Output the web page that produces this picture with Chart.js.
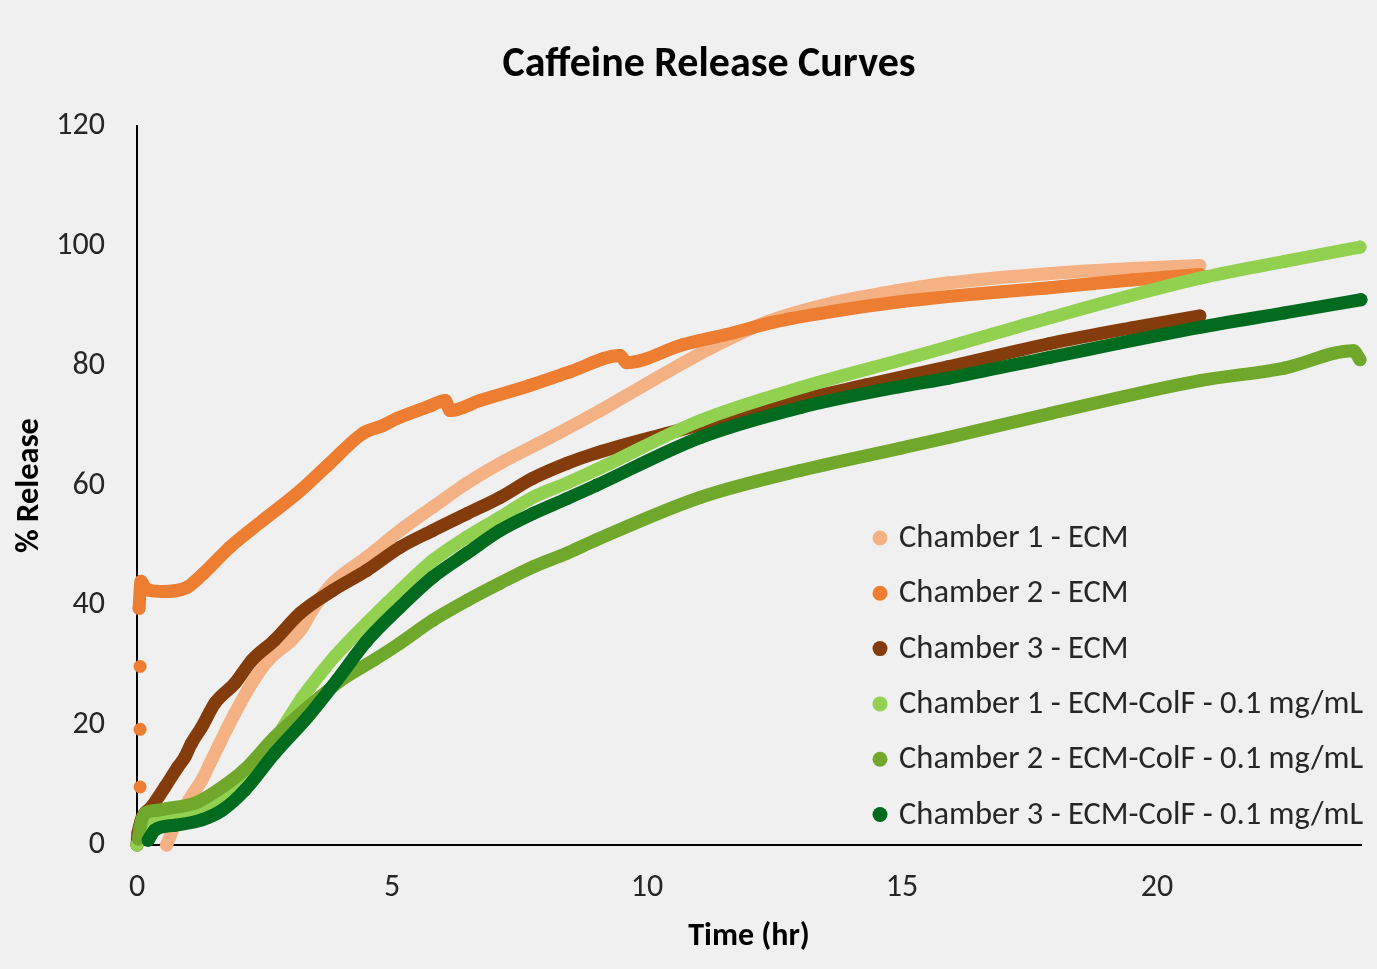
<!DOCTYPE html>
<html>
<head>
<meta charset="utf-8">
<title>Caffeine Release Curves</title>
<script src="https://cdn.jsdelivr.net/npm/chart.js@4.4.1/dist/chart.umd.min.js"></script>
<style>
  html, body { margin: 0; padding: 0; background: #f0f0f0; }
  #wrap { width: 1377px; height: 969px; }
</style>
</head>
<body>
<div id="wrap"><canvas id="grafico" width="1377" height="969"></canvas></div>
<script>
// --- DATOS ---
const seriesLabels = [
  'Chamber 1 - ECM',
  'Chamber 2 - ECM',
  'Chamber 3 - ECM',
  'Chamber 1 - ECM-ColF - 0.1 mg/mL',
  'Chamber 2 - ECM-ColF - 0.1 mg/mL',
  'Chamber 3 - ECM-ColF - 0.1 mg/mL'
];
const seriesColors = ['#F4B183', '#ED7D31', '#843C0C', '#92D050', '#70A82C', '#006B1E'];

const xTicks = [0, 5, 10, 15, 20];

// Chamber 1 - ECM
const timeEcm1 = [0.58, 0.75, 0.94, 1.1, 1.27, 1.43, 1.59, 1.75, 1.92, 2.25, 2.57, 3.03, 3.2, 3.5, 3.84, 4.5, 5.16, 5.8, 6.47, 7.12, 8.1, 9.08, 10, 11.04, 12.35, 13.65, 14.96, 15.9, 17.9, 19.5, 20.84];
const relEcm1  = [0, 3.5, 6.4, 8.6, 10.8, 13.6, 16.4, 19.2, 22, 27, 30.8, 34.2, 35.8, 40, 43.7, 48, 52.5, 56.4, 60.4, 63.7, 68, 72.5, 77, 82, 87.3, 90.5, 92.6, 93.8, 95.4, 96.2, 96.7];

// Chamber 2 - ECM (null = hueco entre puntos sueltos)
const timeEcm2 = [0.06, 0.06, 0.06, 0.06, 0.06, 0.06, 0.04, 0.08, 0.15, 0.25, 0.5, 0.98, 1.3, 1.82, 2.47, 3.14, 3.78, 4.43, 4.82, 5.1, 5.75, 6.04, 6.14, 6.73, 7.7, 8.5, 9.47, 9.6, 10.7, 11.7, 12.5, 13.6, 15, 16.5, 17.9, 19.5, 20.84];
const relEcm2  = [9.7, null, 19.3, null, 29.8, null, 39.5, 44, 43, 42.5, 42.3, 43, 45.3, 49.7, 54.2, 58.7, 63.7, 68.7, 70, 71.2, 73.3, 74.2, 72.5, 74.2, 76.7, 79, 81.7, 80.5, 83.5, 85.5, 87.3, 89, 90.7, 92, 93, 94.3, 95.2];

// Chamber 3 - ECM
const timeEcm3 = [0, 0.02, 0.29, 0.55, 0.8, 0.94, 1.07, 1.27, 1.53, 1.92, 2.25, 2.7, 3.2, 3.84, 4.5, 5.16, 5.8, 6.47, 7.12, 7.76, 8.43, 9.0, 10.4, 12.35, 14.3, 15.9, 17.9, 19.5, 20.84];
const relEcm3  = [0, 2, 6.4, 9.7, 13, 14.7, 17, 19.7, 23.7, 27, 30.8, 34.2, 38.7, 42.5, 45.8, 49.7, 52.5, 55.3, 58, 61.2, 63.7, 65.4, 68.7, 73, 76.8, 79.8, 83.7, 86.3, 88.3];

// Chamber 1 - ECM-ColF
const timeColf1 = [0, 0.1, 0.3, 0.6, 1.0, 1.4, 1.8, 2.2, 2.7, 3.23, 3.59, 3.88, 4.5, 5.16, 5.8, 6.47, 7.12, 7.76, 8.43, 9.0, 11.04, 13, 14.96, 15.9, 17.9, 20.84, 22.5, 23.98];
const relColf1  = [0, 2.5, 4.2, 4.8, 5.5, 6.8, 9, 12, 17.5, 24.5, 28.5, 31.5, 37, 42.5, 47.5, 51.4, 54.7, 58, 60.4, 62.6, 70.8, 76.3, 80.9, 83.1, 88, 94.6, 97.4, 99.8];

// Chamber 2 - ECM-ColF
const timeColf2 = [0.03, 0.06, 0.16, 0.4, 0.6, 1.14, 1.59, 2.1, 2.7, 3.35, 4.0, 4.67, 5.16, 5.8, 6.47, 7.12, 7.76, 8.43, 9.0, 11.04, 13, 14.96, 15.9, 17.9, 20.84, 22.5, 23.85, 23.98];
const relColf2  = [1, 3, 5.3, 5.8, 6.1, 7, 9.2, 12.5, 18, 23, 27.5, 31, 33.7, 37.5, 40.8, 43.7, 46.4, 48.7, 50.9, 58, 62.5, 66.2, 68, 72, 77.5, 79.6, 82.5, 81];

// Chamber 3 - ECM-ColF
const timeColf3 = [0.22, 0.35, 0.75, 1.27, 1.67, 2.12, 2.7, 3.35, 3.92, 4.5, 5.16, 5.8, 6.47, 7.12, 7.76, 8.43, 9.0, 11.04, 13, 14.96, 15.9, 17.9, 20.84, 22.5, 24.0];
const relColf3  = [0.8, 2.5, 3.3, 4.2, 5.8, 9.2, 15.3, 21.4, 27.5, 34, 39.7, 44.7, 48.7, 52.5, 55.3, 57.8, 60, 68, 73, 76.5, 77.9, 81.4, 86.4, 88.8, 91];

const seriesTimes = [timeEcm1, timeEcm2, timeEcm3, timeColf1, timeColf2, timeColf3];
const seriesValues = [relEcm1, relEcm2, relEcm3, relColf1, relColf2, relColf3];

const fuente = 'Carlito, Lato, sans-serif';

// --- CONSTRUCCIÓN DE DATASETS ---
const datasets = seriesLabels.map((label, i) => ({
  label: label,
  data: seriesTimes[i].map((t, k) => ({ x: t, y: seriesValues[i][k] })),
  showLine: true,
  cubicInterpolationMode: 'monotone',
  borderColor: seriesColors[i],
  backgroundColor: seriesColors[i],
  borderWidth: 13,
  borderCapStyle: 'round',
  borderJoinStyle: 'round',
  pointRadius: 6.5,
  pointBorderWidth: 0,
  pointHoverRadius: 6.5,
  spanGaps: false,
  clip: false,
  order: seriesLabels.length - i // las últimas series quedan encima
}));

// Leyenda dentro del área del gráfico (abajo a la derecha)
const leyendaInterna = {
  id: 'leyendaInterna',
  afterDraw(chart) {
    const ctx = chart.ctx;
    ctx.save();
    ctx.font = '32.5px ' + fuente;
    ctx.textBaseline = 'middle';
    ctx.textAlign = 'left';
    chart.data.datasets.forEach((ds, i) => {
      const y = 538 + i * 55.3;
      ctx.fillStyle = ds.backgroundColor;
      ctx.beginPath();
      ctx.arc(880, y, 7.5, 0, Math.PI * 2);
      ctx.fill();
      ctx.fillStyle = '#262626';
      ctx.fillText(ds.label, 899, y + 1);
    });
    ctx.restore();
  }
};

const ctx = document.getElementById('grafico').getContext('2d');
new Chart(ctx, {
  type: 'scatter',
  data: { datasets: datasets },
  options: {
    responsive: false,
    animation: false,
    devicePixelRatio: 1,
    layout: { padding: { left: 57, right: 16, top: 0, bottom: 0 } },
    plugins: {
      legend: { display: false },
      tooltip: { enabled: false },
      title: {
        display: true,
        text: 'Caffeine Release Curves',
        color: '#000',
        font: { family: fuente, size: 42, weight: 'bold' },
        padding: { top: 40, bottom: 35.6 }
      }
    },
    scales: {
      x: {
        type: 'linear',
        min: 0,
        max: 24,
        afterBuildTicks: (scale) => { scale.ticks = xTicks.map(v => ({ value: v })); },
        afterFit: (scale) => { scale.height = 124; },
        grid: { display: false, drawTicks: false },
        border: { display: true, color: '#000', width: 2 },
        ticks: { color: '#262626', padding: 24, font: { family: fuente, size: 32 } },
        title: {
          display: true,
          text: 'Time (hr)',
          color: '#000',
          font: { family: fuente, size: 32, weight: 'bold' },
          padding: { top: 0, bottom: 13 }
        }
      },
      y: {
        min: 0,
        max: 120,
        afterFit: (scale) => { scale.width = 80; },
        grid: { display: false, drawTicks: false },
        border: { display: true, color: '#000', width: 2 },
        ticks: { stepSize: 20, color: '#262626', padding: 32, font: { family: fuente, size: 32 } },
        title: {
          display: true,
          text: '% Release',
          color: '#000',
          font: { family: fuente, size: 32.5, weight: 'bold' },
          padding: { top: -46.5, bottom: 0 }
        }
      }
    }
  },
  plugins: [leyendaInterna]
});
</script>
</body>
</html>
